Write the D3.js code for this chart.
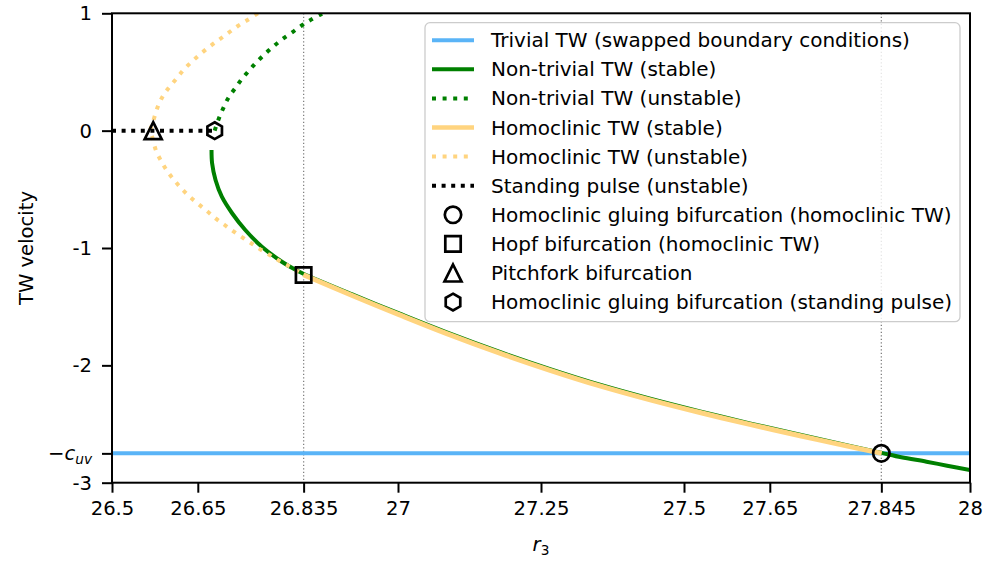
<!DOCTYPE html>
<html>
<head>
<meta charset="utf-8">
<script src="https://cdn.jsdelivr.net/npm/d3@7"></script>
<style>
  body { margin: 0; background: #fff; }
  text { font-family: "DejaVu Sans", sans-serif; }
</style>
</head>
<body>
<div id="chart"></div>
<script>
// values
var cuv = 2.75;

var xTicks = [26.5, 26.65, 26.835, 27, 27.25, 27.5, 27.65, 27.845, 28];
var xTickLabels = ["26.5", "26.65", "26.835", "27", "27.25", "27.5", "27.65", "27.845", "28"];
var yTicks = [1, 0, -1, -2, -cuv, -3];
var yTickLabels = ["1", "0", "-1", "-2", "cuv", "-3"];

var vLines = [26.835, 27.845];

// trivial TW
var trivR3 = [26.5, 28];
var trivV = [-cuv, -cuv];

// non-trivial TW, stable branch
var ntStabR3 = [26.674, 26.675, 26.681, 26.692, 26.710, 26.733, 26.762, 26.797, 26.820, 26.8345,
  26.92, 27.003, 27.09, 27.178, 27.266, 27.353, 27.441, 27.528, 27.615, 27.703, 27.790, 27.8456,
  27.88, 27.924, 27.96, 28.0];
var ntStabV = [-0.165, -0.278, -0.421, -0.563, -0.704, -0.847, -0.989, -1.117, -1.184, -1.219,
  -1.395, -1.560, -1.728, -1.886, -2.032, -2.165, -2.284, -2.392, -2.494, -2.591, -2.686, -2.746,
  -2.783, -2.821, -2.855, -2.892];

// non-trivial TW, unstable branch
var ntUnstR3 = [26.6795, 26.687, 26.695, 26.704, 26.716, 26.727, 26.740, 26.753, 26.768, 26.783,
  26.798, 26.815, 26.831, 26.848, 26.865, 26.870];
var ntUnstV = [0, 0.105, 0.196, 0.284, 0.366, 0.440, 0.514, 0.585, 0.656, 0.721,
  0.781, 0.838, 0.894, 0.946, 0.991, 1.0];

// homoclinic TW, stable branch
var hcStabR3 = [26.8345, 26.92, 27.003, 27.09, 27.178, 27.266, 27.353, 27.441, 27.528, 27.615,
  27.703, 27.790, 27.8456];
var hcStabV = [-1.228, -1.405, -1.570, -1.738, -1.896, -2.042, -2.175, -2.294, -2.402, -2.503,
  -2.600, -2.693, -2.750];

// homoclinic TW, unstable branch
var hcUnstR3 = [26.755, 26.737, 26.720, 26.704, 26.688, 26.672, 26.656, 26.641, 26.626, 26.614,
  26.601, 26.589, 26.580, 26.571, 26.567, 26.571, 26.577, 26.586, 26.596, 26.608, 26.621, 26.635,
  26.650, 26.666, 26.681, 26.697, 26.713, 26.730, 26.746, 26.763, 26.781, 26.797, 26.815, 26.8345];
var hcUnstV = [1.0, 0.943, 0.892, 0.835, 0.778, 0.721, 0.659, 0.594, 0.523, 0.451,
  0.375, 0.295, 0.204, 0.063, 0, -0.065, -0.171, -0.259, -0.341, -0.418, -0.491, -0.559,
  -0.622, -0.685, -0.747, -0.804, -0.861, -0.917, -0.968, -1.023, -1.074, -1.122, -1.170, -1.228];

// standing pulse
var spR3 = [26.5, 26.6795];
var spV = [0, 0];

// bifurcation points
var gluingHcPt = [27.845, -cuv];
var hopfPt = [26.835, -1.23];
var pitchforkPt = [26.572, 0];
var gluingSpPt = [26.6795, 0];

// ---------------------------------------------------------------------------

var svgWidth = 987;
var svgHeight = 561;
var margin = { top: 13.3, right: 17, bottom: 78.3, left: 112 };
var width = svgWidth - margin.left - margin.right;
var height = svgHeight - margin.top - margin.bottom;

var blue = "#5ab4f7";
var green = "#008000";
var yellow = "#ffd47f";

var svg = d3.select("#chart").append("svg")
  .attr("width", svgWidth)
  .attr("height", svgHeight);

svg.append("defs").append("clipPath").attr("id", "clip")
  .append("rect").attr("width", width).attr("height", height);

var chart = svg.append("g")
  .attr("transform", `translate(${margin.left}, ${margin.top})`);

var x = d3.scaleLinear().domain([26.5, 28]).range([0, width]);
var y = d3.scaleLinear().domain([-3, 1]).range([height, 0]);

function zip(a, b) { return a.map((d, i) => [d, b[i]]); }

var line = d3.line()
  .x(d => x(d[0]))
  .y(d => y(d[1]))
  .curve(d3.curveCatmullRom.alpha(0.5));

var plot = chart.append("g").attr("clip-path", "url(#clip)");

// vertical reference lines
plot.selectAll(".vline").data(vLines).enter().append("line")
  .attr("x1", d => x(d)).attr("x2", d => x(d))
  .attr("y1", 0).attr("y2", height)
  .attr("stroke", "#808080").attr("stroke-width", 1.3)
  .attr("stroke-dasharray", "1.3,2.2");

var series = [
  { name: "Trivial TW (swapped boundary conditions)", data: zip(trivR3, trivV), color: blue, w: 4, dash: null },
  { name: "Non-trivial TW (stable)", data: zip(ntStabR3, ntStabV), color: green, w: 4, dash: null },
  { name: "Non-trivial TW (unstable)", data: zip(ntUnstR3, ntUnstV), color: green, w: 4, dash: "4,6.6" },
  { name: "Homoclinic TW (stable)", data: zip(hcStabR3, hcStabV), color: yellow, w: 5, dash: null },
  { name: "Homoclinic TW (unstable)", data: zip(hcUnstR3, hcUnstV), color: yellow, w: 4, dash: "4,6.6" },
  { name: "Standing pulse (unstable)", data: zip(spR3, spV), color: "#000", w: 4, dash: "4,5.6" }
];

plot.selectAll(".series").data(series).enter().append("path")
  .attr("d", d => line(d.data))
  .attr("fill", "none")
  .attr("stroke", d => d.color)
  .attr("stroke-width", d => d.w)
  .attr("stroke-dasharray", d => d.dash);

// marker shapes
function hexPath(r) {
  var pts = d3.range(6).map(i => {
    var a = -Math.PI / 2 + i * Math.PI / 3;
    return [r * Math.cos(a), r * Math.sin(a)];
  });
  return "M" + pts.join("L") + "Z";
}
var markers = [
  { name: "Homoclinic gluing bifurcation (homoclinic TW)", pt: gluingHcPt, d: d3.symbol(d3.symbolCircle, Math.PI * 8.2 * 8.2)() },
  { name: "Hopf bifurcation (homoclinic TW)", pt: hopfPt, d: "M-7.7,-7.7H7.7V7.7H-7.7Z" },
  { name: "Pitchfork bifurcation", pt: pitchforkPt, d: "M0,-8.5L8.5,8.5H-8.5Z" },
  { name: "Homoclinic gluing bifurcation (standing pulse)", pt: gluingSpPt, d: hexPath(8.4) }
];

chart.selectAll(".marker").data(markers).enter().append("path")
  .attr("transform", d => `translate(${x(d.pt[0])}, ${y(d.pt[1])})`)
  .attr("d", d => d.d)
  .attr("fill", "none")
  .attr("stroke", "#000")
  .attr("stroke-width", 2.7)
  .attr("stroke-linejoin", "miter");

// axes
var xAxis = chart.append("g")
  .attr("transform", `translate(0, ${height})`)
  .call(d3.axisBottom(x).tickValues(xTicks).tickFormat((d, i) => xTickLabels[i]).tickSize(10).tickPadding(8));

var yAxis = chart.append("g")
  .call(d3.axisLeft(y).tickValues(yTicks).tickFormat("").tickSize(10));

[xAxis, yAxis].forEach(a => {
  a.select(".domain").remove();
  a.selectAll(".tick line").attr("stroke-width", 2);
  a.selectAll("text").attr("font-size", "19.6px").attr("fill", "#000")
    .attr("font-family", "DejaVu Sans, sans-serif");
});

// y tick labels, drawn by hand because of the -c_uv label
yTicks.forEach((t, i) => {
  var txt = chart.append("text")
    .attr("x", -20)
    .attr("y", y(t))
    .attr("dy", "0.35em")
    .attr("text-anchor", "end")
    .attr("font-size", "19.6px");
  if (yTickLabels[i] === "cuv") {
    txt.append("tspan").text("\u2212");
    txt.append("tspan").attr("font-style", "italic").text("c");
    txt.append("tspan").attr("font-style", "italic").attr("font-size", "13.7px").attr("dy", "4").text("uv");
  } else {
    txt.text(yTickLabels[i]);
  }
});

// frame
chart.append("rect")
  .attr("width", width).attr("height", height)
  .attr("fill", "none").attr("stroke", "#000").attr("stroke-width", 2);

// axis labels
svg.append("text")
  .attr("transform", `translate(33, ${margin.top + y(-1)}) rotate(-90)`)
  .attr("text-anchor", "middle")
  .attr("font-size", "19.6px")
  .text("TW velocity");

var xl = svg.append("text")
  .attr("x", margin.left + x(27.25))
  .attr("y", 551)
  .attr("text-anchor", "middle")
  .attr("font-size", "19.6px");
xl.append("tspan").attr("font-style", "italic").text("r");
xl.append("tspan").attr("font-size", "13.7px").attr("dy", "4").text("3");

// legend
var legend = chart.append("g").attr("transform", `translate(${425 - margin.left}, ${22.7 - margin.top})`);
legend.append("rect")
  .attr("width", 535).attr("height", 299)
  .attr("rx", 5).attr("ry", 5)
  .attr("fill", "#fff").attr("fill-opacity", 0.8)
  .attr("stroke", "#cccccc").attr("stroke-width", 1.3);

var rowH = 29.1;
var items = series.map(s => Object.assign({ kind: "line" }, s))
  .concat(markers.map(m => Object.assign({ kind: "marker" }, m)));

var rows = legend.selectAll(".row").data(items).enter().append("g")
  .attr("transform", (d, i) => `translate(0, ${17.5 + i * rowH})`);

rows.filter(d => d.kind === "line").append("line")
  .attr("x1", 7).attr("x2", 49).attr("y1", 0).attr("y2", 0)
  .attr("stroke", d => d.color)
  .attr("stroke-width", d => d.w === 5 ? 4.5 : 4)
  .attr("stroke-dasharray", d => d.dash);

rows.filter(d => d.kind === "marker").append("path")
  .attr("transform", "translate(28, 0)")
  .attr("d", d => d.d)
  .attr("fill", "none").attr("stroke", "#000").attr("stroke-width", 2.7);

rows.append("text")
  .attr("x", 66)
  .attr("dy", "0.35em")
  .attr("font-size", "20px")
  .text(d => d.name);
</script>
</body>
</html>
